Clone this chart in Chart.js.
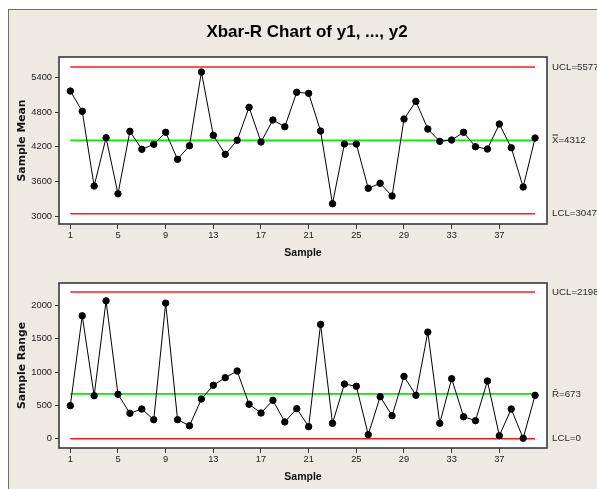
<!DOCTYPE html>
<html>
<head>
<meta charset="utf-8">
<script src="https://cdn.jsdelivr.net/npm/chart.js@4.4.0/dist/chart.umd.min.js"></script>
<style>
  html, body { margin: 0; padding: 0; background: #fff; overflow: hidden; }
  #panel { position: fixed; left: 8px; top: 9px; right: 0; bottom: 0;
           background: #eeeae1; border-left: 1px solid #6e6e6e; border-top: 1px solid #6e6e6e; }
  canvas { position: absolute; left: 0; }
</style>
</head>
<body>
<div id="panel"></div>
<canvas id="meanChart" width="597" height="262" style="top:0px"></canvas>
<canvas id="rangeChart" width="597" height="230" style="top:259px"></canvas>
<script>
// sample numbers and values
const samples = Array.from({ length: 40 }, (_, i) => i + 1)
const sampleMeans = [5163, 4813, 3524, 4357, 3391, 4468, 4157, 4244, 4451, 3985,
                     4219, 5491, 4399, 4071, 4313, 4882, 4283, 4663, 4547, 5142,
                     5123, 4473, 3219, 4249, 4249, 3485, 3571, 3352, 4680, 4985,
                     4507, 4295, 4318, 4451, 4202, 4162, 4594, 4185, 3507, 4352]
const sampleRanges = [496, 1842, 645, 2066, 666, 382, 446, 286, 2032, 286,
                      196, 596, 801, 915, 1015, 517, 386, 576, 252, 451,
                      182, 1713, 232, 820, 786, 62, 630, 346, 935, 651,
                      1598, 232, 900, 331, 271, 865, 47, 446, 8, 651]
const xTicks = [1, 5, 9, 13, 17, 21, 25, 29, 33, 37]
const meanTicks = [3000, 3600, 4200, 4800, 5400]
const rangeTicks = [0, 500, 1000, 1500, 2000]
// UCL, center line, LCL
const meanLimits = [5577, 4312, 3047]
const rangeLimits = [2198, 673, 0]
const meanLabels = ['UCL=5577', 'X\u033F=4312', 'LCL=3047']
const rangeLabels = ['UCL=2198', 'R\u0304=673', 'LCL=0']

const TICK_FONT = { family: 'Liberation Sans', size: 9.3 }

function limitLine(value, color) {
    return {
        data: [{ x: samples[0], y: value }, { x: samples[samples.length - 1], y: value }],
        borderColor: color,
        borderWidth: 1.6,
        pointRadius: 0,
        order: 2
    }
}

// white plot box, frame, limit labels and axis titles
const controlPanel = {
    id: 'controlPanel',
    beforeDraw(chart, args, opts) {
        const a = chart.chartArea
        const ctx = chart.ctx
        ctx.save()
        ctx.fillStyle = '#ffffff'
        ctx.fillRect(a.left, a.top, a.right - a.left, a.bottom - a.top)
        ctx.restore()
    },
    afterDraw(chart, args, opts) {
        const a = chart.chartArea
        const ctx = chart.ctx
        const y = chart.scales.y
        ctx.save()
        ctx.strokeStyle = '#3a3a3a'
        ctx.lineWidth = 1.6
        ctx.strokeRect(a.left, a.top, a.right - a.left, a.bottom - a.top)

        ctx.fillStyle = '#2a2a2a'
        ctx.font = '9.7px "Liberation Sans"'
        ctx.textAlign = 'left'
        ctx.textBaseline = 'middle'
        opts.limits.forEach((v, i) => {
            ctx.fillText(opts.labels[i], a.right + 5, y.getPixelForValue(v))
        })

        ctx.fillStyle = '#111'
        ctx.font = 'bold 10.5px "Liberation Sans"'
        ctx.textAlign = 'center'
        ctx.textBaseline = 'alphabetic'
        ctx.fillText('Sample', (a.left + a.right) / 2, a.bottom + 32)

        ctx.save()
        ctx.translate(25, (a.top + a.bottom) / 2)
        ctx.rotate(-Math.PI / 2)
        ctx.font = 'bold 10.8px "DejaVu Sans"'
        ctx.fillText(opts.yTitle, 0, 0)
        ctx.restore()

        if (opts.title) {
            ctx.font = 'bold 17px "Liberation Sans"'
            ctx.fillStyle = '#000'
            ctx.fillText(opts.title, 307, 37)
        }
        ctx.restore()
    }
}

function makeChart(id, values, limits, labels, yTicks, yMin, yMax, yTitle, title, padTop, xHeight) {
    const ctx = document.getElementById(id)
    return new Chart(ctx, {
        type: 'line',
        data: {
            datasets: [
                {
                    data: samples.map((s, i) => ({ x: s, y: values[i] })),
                    borderColor: '#000',
                    borderWidth: 1,
                    pointBackgroundColor: '#000',
                    pointBorderColor: '#000',
                    pointRadius: 3.2,
                    order: 1
                },
                limitLine(limits[0], '#ff1a1a'),
                limitLine(limits[1], '#00ee00'),
                limitLine(limits[2], '#ff1a1a')
            ]
        },
        options: {
            responsive: false,
            animation: false,
            layout: { padding: { top: padTop, right: 50, left: 0, bottom: 0 } },
            plugins: {
                legend: { display: false },
                tooltip: { enabled: false },
                controlPanel: { limits: limits, labels: labels, yTitle: yTitle, title: title }
            },
            scales: {
                x: {
                    type: 'linear',
                    min: 0.05,
                    max: 41,
                    afterBuildTicks: s => { s.ticks = xTicks.map(v => ({ value: v })) },
                    afterFit: s => { s.height = xHeight },
                    grid: { drawOnChartArea: false, drawTicks: true, tickLength: 5, color: '#333' },
                    border: { display: false },
                    ticks: { font: TICK_FONT, color: '#222', padding: 1, maxRotation: 0, callback: v => String(v) }
                },
                y: {
                    min: yMin,
                    max: yMax,
                    afterBuildTicks: s => { s.ticks = yTicks.map(v => ({ value: v })) },
                    afterFit: s => { s.width = 59 },
                    grid: { drawOnChartArea: false, drawTicks: true, tickLength: 4, color: '#333' },
                    border: { display: false },
                    ticks: { font: TICK_FONT, color: '#222', padding: 3, callback: v => String(v) }
                }
            }
        },
        plugins: [controlPanel]
    })
}

makeChart('meanChart', sampleMeans, meanLimits, meanLabels, meanTicks, 2869, 5750,
          'Sample Mean', 'Xbar-R Chart of y1, ..., y2', 57, 38)
makeChart('rangeChart', sampleRanges, rangeLimits, rangeLabels, rangeTicks, -138, 2333,
          'Sample Range', null, 24, 41)
</script>
</body>
</html>
